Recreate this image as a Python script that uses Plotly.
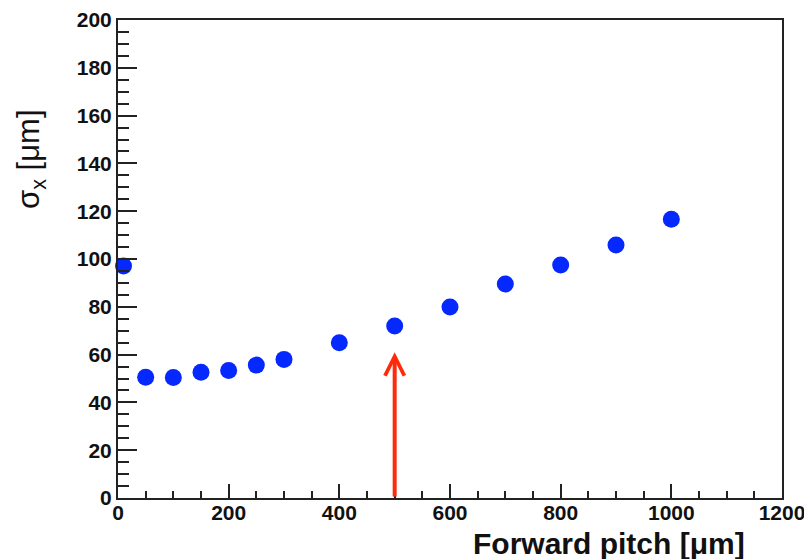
import plotly.graph_objects as go

pitch = [10, 50, 100, 150, 200, 250, 300, 400, 500, 600, 700, 800, 900, 1000]
sigma_x = [97.1, 50.5, 50.4, 52.6, 53.3, 55.6, 58.0, 65.0, 72.0, 79.9, 89.5, 97.5, 105.9, 116.6]

arrow_x = 500
arrow_y0 = 0
arrow_y1 = 61

x_range = [0, 1200]
y_range = [0, 200]

fig = go.Figure()
fig.add_trace(go.Scatter(
    x=pitch, y=sigma_x, mode="markers",
    marker=dict(symbol="circle", size=17, color="#0528ff", line=dict(width=0)),
    showlegend=False, cliponaxis=False,
))

fig.add_annotation(
    x=arrow_x, y=arrow_y1, ax=arrow_x, ay=arrow_y0,
    xref="x", yref="y", axref="x", ayref="y",
    showarrow=True, arrowhead=5, arrowsize=0.95, arrowwidth=4,
    arrowcolor="#ff2a0a", text="", standoff=0, startstandoff=0,
)

font_family = "Liberation Sans, Arial, Helvetica, sans-serif"

fig.add_annotation(
    text="<b>Forward pitch [μm]</b>", xref="paper", yref="paper",
    x=(747 - 118) / 664, y=-(543 - 498) / 478, xanchor="right", yanchor="middle",
    showarrow=False, font=dict(family=font_family, size=30, color="#111"),
)
fig.add_annotation(
    text="σ<sub>x</sub> [μm]", xref="paper", yref="paper",
    x=-(118 - 31) / 664, y=(498 - 159) / 478, xanchor="center", yanchor="middle",
    textangle=-90, showarrow=False, font=dict(family=font_family, size=31, color="#111"),
)

axis_common = dict(
    showline=True, linewidth=2, linecolor="#222", mirror=True, automargin=False,
    showgrid=False, zeroline=False, ticks="inside", tickwidth=2, tickcolor="#222",
    tickfont=dict(family=font_family, size=21, color="#111"),
)

fig.update_xaxes(range=x_range, dtick=200, tick0=0, ticklen=14, ticklabelstandoff=-5,
                 minor=dict(dtick=50, ticks="inside", ticklen=7, tickwidth=2, tickcolor="#222"),
                 tickprefix="<b>", ticksuffix="</b>", **axis_common)
fig.update_yaxes(range=y_range, dtick=20, tick0=0, ticklen=19,
                 minor=dict(dtick=5, ticks="inside", ticklen=11, tickwidth=2, tickcolor="#222"),
                 tickprefix="<b>", ticksuffix="</b>", **axis_common)

# the page body adds an 8px offset; compensate so the plot box lands where the reference has it
fig.update_layout(
    width=804, height=551,
    margin=dict(l=110, r=30, t=12, b=61),
    plot_bgcolor="white", paper_bgcolor="white",
)

fig.write_html("out.html")
